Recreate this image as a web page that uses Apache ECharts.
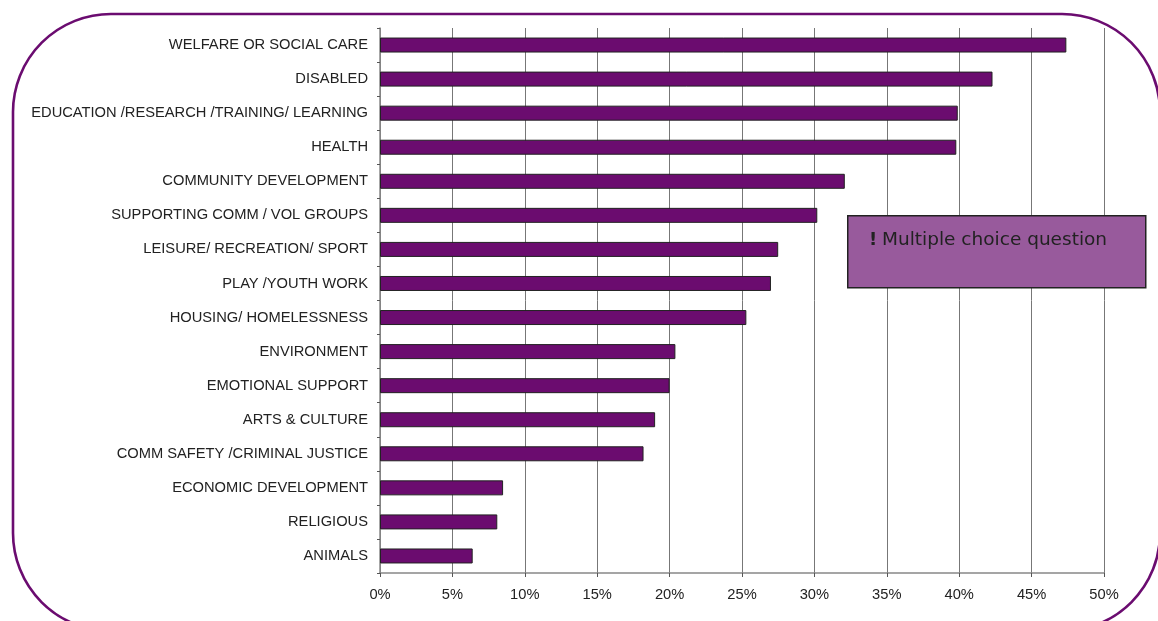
<!DOCTYPE html>
<html>
<head>
<meta charset="utf-8">
<script src="https://cdn.jsdelivr.net/npm/echarts@6/dist/echarts.min.js"></script>
<style>html,body{margin:0;padding:0;background:#fff;}#chart{width:1158px;height:621px;}</style>
</head>
<body>
<div id="chart"></div>
<script>
// Categories listed top to bottom
const categories = [
  'WELFARE OR SOCIAL CARE',
  'DISABLED',
  'EDUCATION /RESEARCH /TRAINING/ LEARNING',
  'HEALTH',
  'COMMUNITY DEVELOPMENT',
  'SUPPORTING COMM / VOL GROUPS',
  'LEISURE/ RECREATION/ SPORT',
  'PLAY /YOUTH WORK',
  'HOUSING/ HOMELESSNESS',
  'ENVIRONMENT',
  'EMOTIONAL SUPPORT',
  'ARTS & CULTURE',
  'COMM SAFETY /CRIMINAL JUSTICE',
  'ECONOMIC DEVELOPMENT',
  'RELIGIOUS',
  'ANIMALS'
];
const values = [47.4, 42.3, 39.9, 39.8, 32.1, 30.2, 27.5, 27.0, 25.3, 20.4, 20.0, 19.0, 18.2, 8.5, 8.1, 6.4];
const xTicks = { min: 0, max: 50, interval: 5 };
const noteText = 'Multiple choice question';

const chart = echarts.init(document.getElementById('chart'), null, { renderer: 'canvas' });
chart.setOption({
  backgroundColor: '#ffffff',
  animation: false,
  grid: { left: 380, right: 54, top: 28, bottom: 48, containLabel: false },
  xAxis: {
    type: 'value',
    min: xTicks.min, max: xTicks.max, interval: xTicks.interval,
    axisLine: { show: true, lineStyle: { color: '#888888', width: 1.5 } },
    axisTick: { show: true, length: 4, lineStyle: { color: '#555555' } },
    axisLabel: { formatter: v => v + '%', color: '#222222', fontFamily: 'Liberation Sans, Arial, sans-serif', fontSize: 14.7, margin: 14 },
    splitLine: { show: true, lineStyle: { color: '#777777', width: 1 } }
  },
  yAxis: {
    type: 'category',
    data: categories,
    inverse: true,
    axisLine: { show: true, lineStyle: { color: '#888888', width: 1.5 } },
    axisTick: { show: true, length: 3, lineStyle: { color: '#555555' } },
    axisLabel: { color: '#222222', fontFamily: 'Liberation Sans, Arial, sans-serif', fontSize: 14.7, margin: 12 },
    splitLine: { show: false }
  },
  series: [{
    type: 'bar',
    data: values,
    barWidth: 15,
    itemStyle: { color: '#6b0c6f', borderColor: '#222222', borderWidth: 1 }
  }],
  graphic: [
    {
      type: 'rect', z: 100, silent: true,
      shape: { x: 13, y: 14, width: 1147, height: 617, r: 98 },
      style: { fill: null, stroke: '#6b0c70', lineWidth: 2.6 }
    },
    { type: 'rect', z: 100, left: 847, top: 215, shape: { x: 0, y: 0, width: 298, height: 72 },
      style: { fill: '#985a9c', stroke: '#222222', lineWidth: 1.5 } },
    { type: 'text', z: 101, left: 869, top: 231,
      style: { text: '!', font: 'bold 18px "DejaVu Sans"', fill: '#222222' } },
    { type: 'text', z: 101, left: 882, top: 231,
      style: { text: noteText, font: '18.5px "DejaVu Sans"', fill: '#222222' } }
  ]
});
</script>
</body>
</html>
